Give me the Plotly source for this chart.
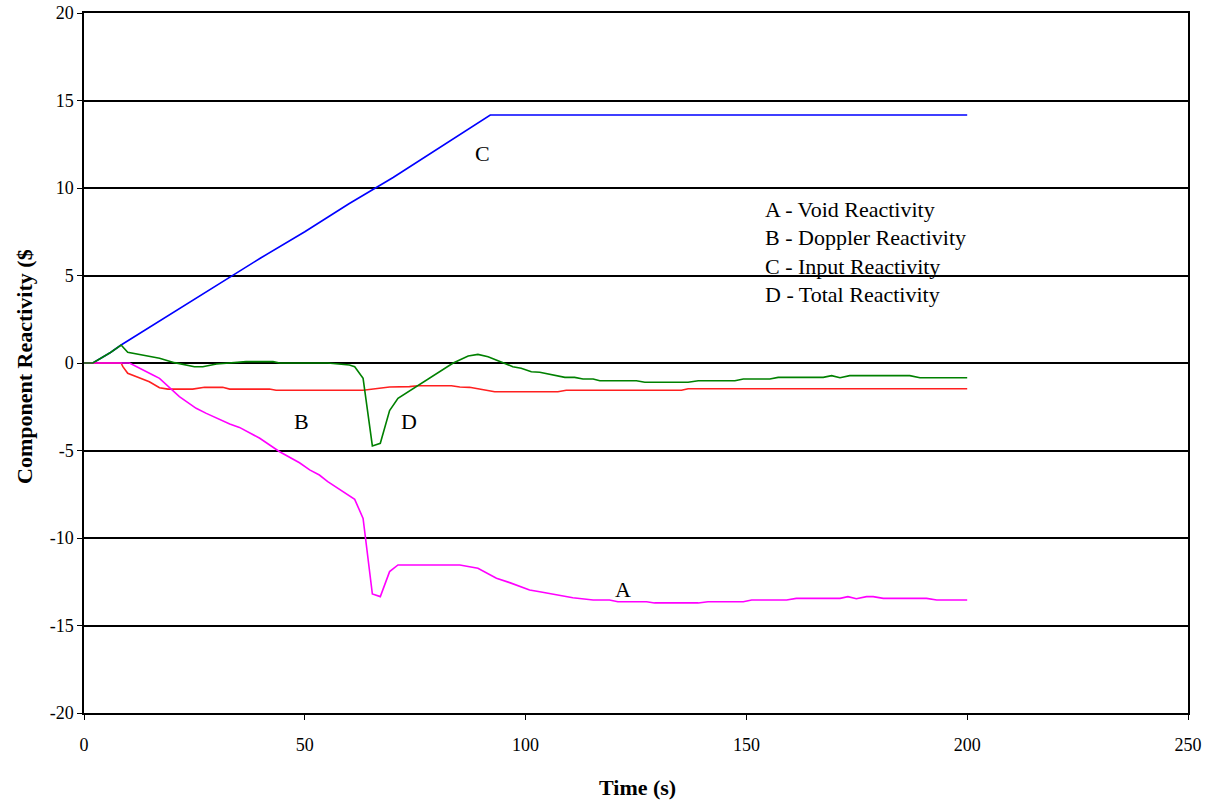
import plotly.graph_objects as go

# A - Void reactivity (magenta)
a_t = [0, 10.3, 15.6, 17.1, 21.6, 25.4, 27.7, 33.0, 35.2, 39.8, 44.3, 48.8, 51.1, 53.3, 55.2, 57.9,
       61.3, 63.2, 65.3, 67.1, 69.2, 71.1, 85.1, 89.2, 93.4, 96.4, 100.9, 103.2, 107.7, 110.7, 115.3,
       119.0, 120.9, 127.4, 129.2, 139.1, 141.3, 149.3, 151.2, 159.1, 161.3, 171.2, 173.0, 174.9,
       177.2, 178.7, 181.0, 190.8, 193.1, 200.0]
a_v = [0, 0, -0.69, -0.88, -1.92, -2.59, -2.88, -3.49, -3.68, -4.30, -5.07, -5.70, -6.11, -6.40, -6.78,
       -7.22, -7.79, -8.88, -13.20, -13.35, -11.92, -11.54, -11.54, -11.73, -12.30, -12.55, -12.97,
       -13.07, -13.30, -13.41, -13.54, -13.54, -13.64, -13.64, -13.71, -13.71, -13.64, -13.64, -13.54,
       -13.54, -13.45, -13.45, -13.35, -13.47, -13.35, -13.35, -13.45, -13.45, -13.54, -13.54]

# B - Doppler reactivity (red)
b_t = [0, 8.4, 8.8, 9.9, 12.2, 14.8, 17.1, 19.0, 24.6, 27.3, 31.4, 33.0, 42.0, 43.5, 63.2, 65.4, 67.3,
       69.2, 73.7, 75.6, 83.2, 85.1, 87.3, 93.0, 107.3, 109.2, 135.3, 136.8, 200.0]
b_v = [0, 0, -0.21, -0.59, -0.82, -1.07, -1.41, -1.49, -1.49, -1.39, -1.39, -1.49, -1.49, -1.56, -1.56,
       -1.49, -1.45, -1.37, -1.35, -1.30, -1.30, -1.37, -1.39, -1.64, -1.64, -1.56, -1.56, -1.47, -1.47]

# C - Input reactivity (blue)
c_t = [0, 2.0, 4.0, 6.0, 8.4, 20.0, 30.0, 40.0, 50.0, 60.0, 70.0, 80.0, 88.0, 92.0, 200.0]
c_v = [0, 0, 0.3, 0.6, 1.03, 2.85, 4.4, 6.0, 7.5, 9.1, 10.6, 12.2, 13.5, 14.17, 14.17]

# D - Total reactivity (green)
d_t = [0, 2.0, 4.0, 6.0, 8.4, 9.9, 17.1, 20.5, 25.0, 26.9, 30.0, 36.7, 42.8, 44.3, 55.2, 60.1, 61.3,
       63.2, 65.3, 67.1, 69.2, 71.1, 83.6, 87.0, 89.2, 91.5, 94.9, 97.1, 99.0, 101.3, 103.2, 108.9,
       111.1, 113.0, 115.3, 116.8, 125.1, 127.0, 136.8, 139.1, 147.4, 149.3, 155.3, 157.2, 167.4,
       169.3, 171.2, 173.4, 187.0, 189.3, 200.0]
d_v = [0, 0, 0.3, 0.6, 1.03, 0.61, 0.27, 0.02, -0.21, -0.21, -0.06, 0.08, 0.08, 0, 0, -0.11, -0.21,
       -0.88, -4.74, -4.59, -2.72, -2.02, 0, 0.40, 0.49, 0.36, 0.02, -0.21, -0.30, -0.50, -0.53, -0.82,
       -0.82, -0.91, -0.91, -1.01, -1.01, -1.10, -1.10, -1.01, -1.01, -0.91, -0.91, -0.82, -0.82,
       -0.72, -0.84, -0.72, -0.72, -0.84, -0.84]

curve_labels = ["C", "B", "D", "A"]
curve_label_x = [90.3, 49.3, 73.5, 122.0]
curve_label_y = [12.0, -3.37, -3.37, -12.97]

legend_lines = ["A - Void Reactivity", "B - Doppler Reactivity", "C - Input Reactivity", "D - Total Reactivity"]
legend_y = [8.8, 7.15, 5.5, 3.9]
legend_x = 153.8

x_ticks = [0, 50, 100, 150, 200, 250]
y_ticks = [-20, -15, -10, -5, 0, 5, 10, 15, 20]

FONT = "Liberation Serif"
W, H = 1216, 802
L, R, T, B = 84, 28, 13, 89
pw, ph = W - L - R, H - T - B

fig = go.Figure()
fig.add_trace(go.Scatter(x=c_t, y=c_v, mode="lines", line=dict(color="#0000FF", width=1.6)))
fig.add_trace(go.Scatter(x=b_t, y=b_v, mode="lines", line=dict(color="#FF2020", width=1.6)))
fig.add_trace(go.Scatter(x=a_t, y=a_v, mode="lines", line=dict(color="#FF00FF", width=1.6)))
fig.add_trace(go.Scatter(x=d_t, y=d_v, mode="lines", line=dict(color="#008000", width=1.6)))

for lab, x, y in zip(curve_labels, curve_label_x, curve_label_y):
    fig.add_annotation(x=x, y=y, text=lab, showarrow=False, xanchor="center", yanchor="middle",
                       font=dict(family=FONT, size=22, color="black"))

for txt, y in zip(legend_lines, legend_y):
    fig.add_annotation(x=legend_x, y=y, text=txt, showarrow=False, xanchor="left", yanchor="middle",
                       font=dict(family=FONT, size=22, color="black"))

fig.add_annotation(x=(24 - L) / pw, y=(H - B - 367) / ph, xref="paper", yref="paper",
                   xanchor="center", yanchor="middle",
                   text="<b>Component Reactivity ($</b>", showarrow=False, textangle=-90,
                   font=dict(family=FONT, size=22, color="black"))
fig.add_annotation(x=(637 - L) / pw, y=(H - B - 787) / ph, xref="paper", yref="paper",
                   xanchor="center", yanchor="middle",
                   text="<b>Time (s)</b>", showarrow=False,
                   font=dict(family=FONT, size=22, color="black"))

fig.update_layout(
    width=W, height=H, showlegend=False,
    margin=dict(l=L, r=R, t=T, b=B, autoexpand=False),
    plot_bgcolor="white", paper_bgcolor="white",
    font=dict(family=FONT, size=18, color="black"),
)
fig.update_xaxes(range=[0, 250], tickvals=x_ticks, ticktext=[str(v) for v in x_ticks],
                 showgrid=False, zeroline=False, automargin=False, ticklabelstandoff=10,
                 showline=True, linecolor="black", linewidth=1.5, mirror=True,
                 ticks="outside", ticklen=5, tickcolor="black", tickfont=dict(family=FONT, size=18))
fig.update_yaxes(range=[-20, 20], tickvals=y_ticks, ticktext=[str(v) for v in y_ticks],
                 showgrid=True, gridcolor="black", automargin=False,
                 gridwidth=1.5, zeroline=False, showline=True, linecolor="black", linewidth=1.5,
                 mirror=True, ticks="outside", ticklen=5, tickcolor="black",
                 tickfont=dict(family=FONT, size=18))

fig.write_html("out.html", config={"displayModeBar": False},
               post_script="document.body.style.margin='0';")
